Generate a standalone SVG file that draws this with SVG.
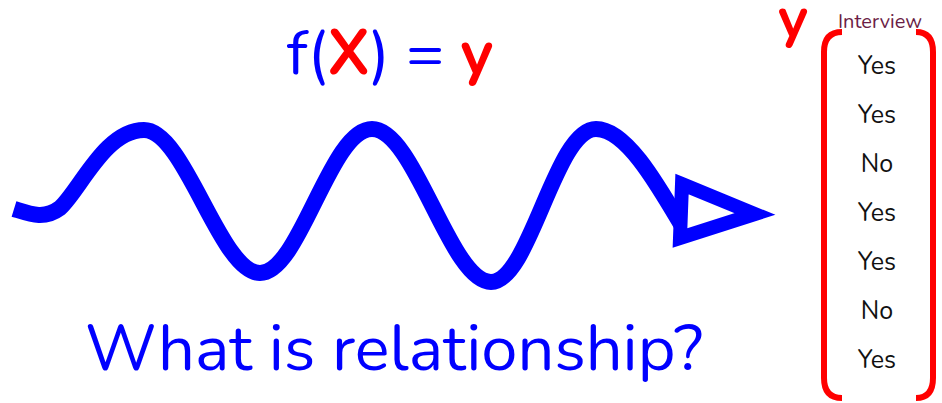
<svg xmlns="http://www.w3.org/2000/svg" width="942" height="403" viewBox="0 0 942 403">
<style>
.t{font-family:"Nunito","Noto Sans","Open Sans",sans-serif;}
.blue{fill:#0000ff;}
.red{fill:#ff0000;}
.row{font-size:25px;fill:#111;text-anchor:middle;}
</style>
<rect width="942" height="403" fill="#fff"/>
<g id="formula">
<text class="t" x="390" y="74" font-size="63" text-anchor="middle"><tspan class="blue">f(</tspan><tspan class="red" font-weight="bold">X</tspan><tspan class="blue">) = </tspan><tspan class="red" font-weight="bold">y</tspan></text>
</g>
<g id="connectors">
<path d="M14,209 C30,214 44,220 60,208 C80,190 105,130 144,130 C185,130 220,273 260,273 C300,273 330,129 372,129 C415,129 450,282 491,282 C530,282 555,129 596,129 C625,129 655,180 682,226" fill="none" stroke="#0000ff" stroke-width="16"/>
<polygon points="682,184 755,214 680,238" fill="#fff" stroke="#0000ff" stroke-width="14" stroke-miterlimit="10"/>
</g>
<g id="question">
<text class="t blue" x="394" y="370" font-size="65" text-anchor="middle">What is relationship?</text>
</g>
<g id="y-label">
<text class="t red" x="793" y="37" font-size="58" font-weight="bold" text-anchor="middle">y</text>
</g>
<g id="interview">
<text class="t" x="880" y="28" font-size="20" fill="#6b1d45" text-anchor="middle">Interview</text>
<path d="M842,32 Q824,32 824,52 L824,378 Q824,398 842,398" fill="none" stroke="#ff0000" stroke-width="6"/>
<path d="M916,32 Q933,32 933,52 L933,378 Q933,398 916,398" fill="none" stroke="#ff0000" stroke-width="6"/>
<text class="t row" x="877" y="74">Yes</text>
<text class="t row" x="877" y="123">Yes</text>
<text class="t row" x="877" y="172">No</text>
<text class="t row" x="877" y="221">Yes</text>
<text class="t row" x="877" y="270">Yes</text>
<text class="t row" x="877" y="319">No</text>
<text class="t row" x="877" y="368">Yes</text>
</g>
</svg>
